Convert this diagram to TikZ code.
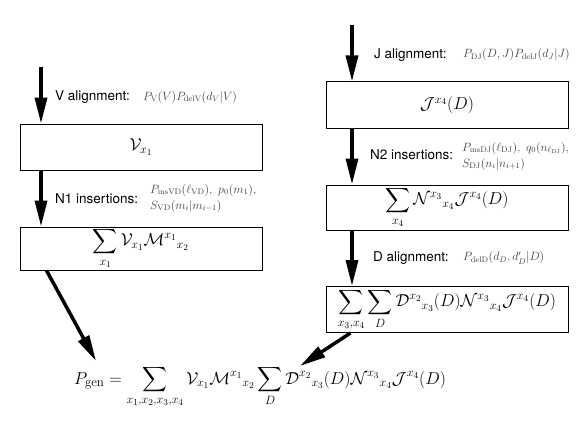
\documentclass[tikz,border=0pt]{standalone}
\usepackage{amsmath}
\usepackage{fontspec}
\setsansfont{TeX Gyre Heros}
\usetikzlibrary{arrows.meta}
\begin{document}
\begin{tikzpicture}[x=1pt,y=-1pt,
  box/.style={draw, line width=1pt, rectangle, minimum width=242pt, inner sep=0pt, font=\fontsize{18.3}{21}\selectfont},
  flow/.style={line width=3.5pt, -{Triangle[length=26pt,width=12pt]}},
  lab/.style={font=\sffamily\fontsize{13.5}{16}\selectfont, anchor=west, inner sep=0pt},
  eq/.style={font=\fontsize{11.5}{16}\selectfont, anchor=west, text=black!75, inner sep=0pt, align=left}]
\useasboundingbox (0,0) rectangle (581,436);
% boxes
\node[box, minimum height=46pt] (v) at (141,147) {$\mathcal{V}_{x_1}$};
\node[box, minimum height=43pt] (m) at (141,248.5) {$\displaystyle\sum_{x_1}\mathcal{V}_{x_1}\mathcal{M}^{x_1}{}_{x_2}$};
\node[box, minimum height=46pt] (j) at (447,105) {$\mathcal{J}^{x_4}(D)$};
\node[box, minimum height=45pt] (n) at (447,207.5) {$\displaystyle\sum_{x_4}\mathcal{N}^{x_3}{}_{x_4}\mathcal{J}^{x_4}(D)$};
\node[box, minimum height=46pt] (d) at (447,309.5) {$\displaystyle\sum_{x_3,x_4}\sum_{D}\mathcal{D}^{x_2}{}_{x_3}(D)\mathcal{N}^{x_3}{}_{x_4}\mathcal{J}^{x_4}(D)$};
\node[font=\fontsize{18.5}{21}\selectfont, anchor=base, inner sep=0pt] (res) at (260,384) {$P_{\mathrm{gen}}=\displaystyle\sum_{x_1,x_2,x_3,x_4}\mathcal{V}_{x_1}\mathcal{M}^{x_1}{}_{x_2}\sum_{D}\mathcal{D}^{x_2}{}_{x_3}(D)\mathcal{N}^{x_3}{}_{x_4}\mathcal{J}^{x_4}(D)$};
% left column
\coordinate (vs) at (41,67);
\draw[flow] (vs) -- (vs |- v.north);
\draw[flow] (vs |- v.south) -- (vs |- m.north);
\node[lab] (lv) at (55,97) {V alignment:};
\node[eq] (ev) at (143,97) {$P_{\mathrm{V}}(V)P_{\mathrm{delV}}(d_V|V)$};
\node[lab] (ln1) at (55,199) {N1 insertions:};
\node[eq] (en1) at (150,198) {$P_{\mathrm{insVD}}(\ell_{\mathrm{VD}}),\ p_0(m_1),$\\$S_{\mathrm{VD}}(m_i|m_{i-1})$};
% right column
\coordinate (js) at (352,25);
\draw[flow] (js) -- (js |- j.north);
\draw[flow] (js |- j.south) -- (js |- n.north);
\draw[flow] (js |- n.south) -- (js |- d.north);
\node[lab] (lj) at (374,55) {J alignment:};
\node[eq] (ej) at (463,55) {$P_{\mathrm{DJ}}(D,J)P_{\mathrm{delJ}}(d_J|J)$};
\node[lab] (ln2) at (370,155) {N2 insertions:};
\node[eq] (en2) at (462,156) {$P_{\mathrm{insDJ}}(\ell_{\mathrm{DJ}}),\ q_0(n_{\ell_{\mathrm{DJ}}}),$\\$S_{\mathrm{DJ}}(n_i|n_{i+1})$};
\node[lab] (ld) at (373,258) {D alignment:};
\node[eq] (ed) at (463,258) {$P_{\mathrm{delD}}(d_D,d'_D|D)$};
% to result
\coordinate (lt) at (96,361);
\coordinate (rt) at (300,366);
\draw[flow] ([xshift=27pt]m.south west) -- (lt);
\draw[flow] ([xshift=25pt]d.south west) -- (rt);
\end{tikzpicture}
\end{document}
